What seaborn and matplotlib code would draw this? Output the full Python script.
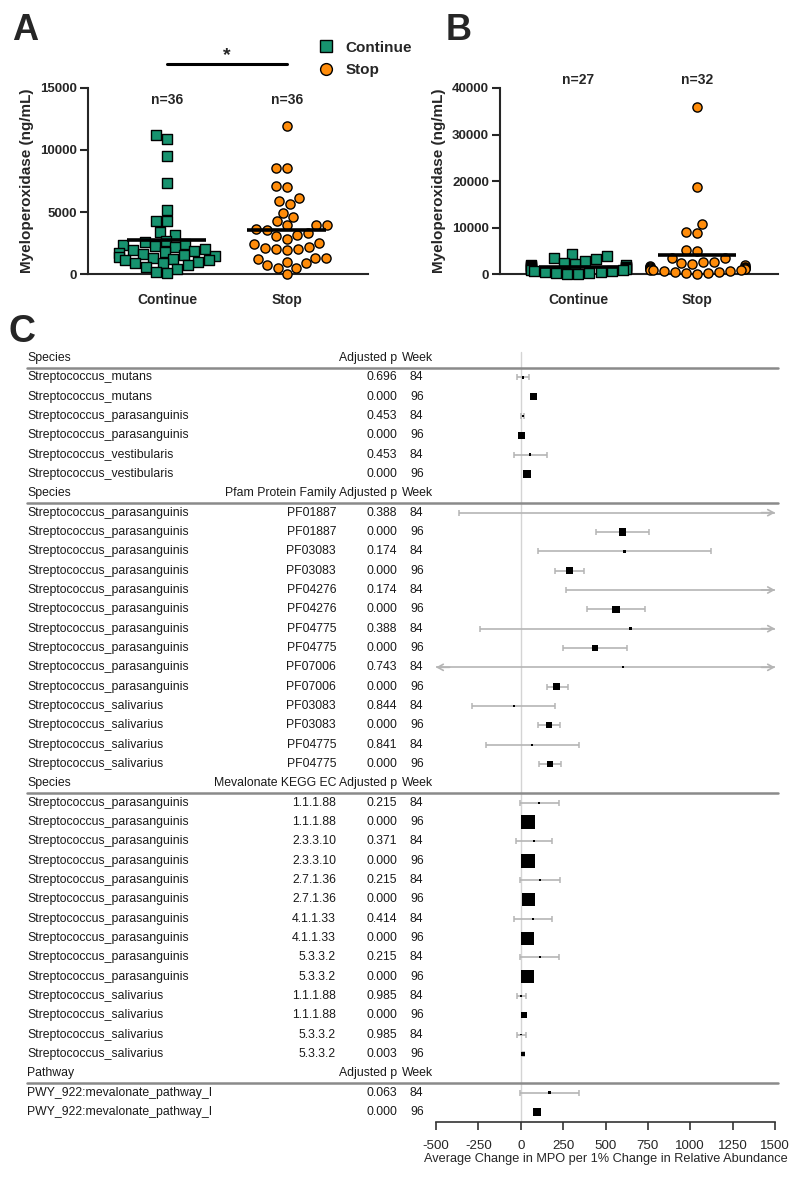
import numpy as np
import pandas as pd
import seaborn as sns
import matplotlib.pyplot as plt
import matplotlib.transforms as mtransforms
from matplotlib.lines import Line2D
from matplotlib import font_manager

# ---- panels A and B : MPO by group ----
groups = ["Continue", "Stop"]
mpo_a_continue = [11190, 10920, 9500, 7350, 5200, 4240, 4240, 3380, 3110, 2650, 2550, 2450,
                  2350, 2250, 2150, 2000, 1950, 1850, 1800, 1700, 1600, 1500, 1450, 1400,
                  1300, 1250, 1150, 1100, 1000, 900, 850, 700, 550, 400, 200, 100]
mpo_a_stop = [11970, 8560, 8560, 7030, 7110, 5880, 6140, 5630, 4940, 4610, 4270, 3920,
              3920, 3920, 3540, 3600, 3330, 3140, 3090, 2790, 2390, 2520, 2170, 2040,
              1930, 1990, 2090, 1310, 1180, 1310, 860, 990, 700, 510, 510, 0]
mpo_b_continue = [4400, 3900, 3400, 3200, 2900, 2300, 2200, 2000, 1900, 1700, 1600, 1500, 1400,
                  1300, 1200, 1100, 1000, 900, 800, 700, 600, 500, 400, 300, 200, 100, 50]
mpo_b_stop = [35850, 18750, 10730, 8730, 8950, 5150, 5010, 3500, 3360, 2650, 2500, 2290, 2100,
              1930, 1800, 1570, 1500, 1360, 1300, 1220, 1100, 1000, 950, 860, 800, 716, 600,
              500, 400, 300, 140, 50]

# ---- panel C : forest plot table ----
section_head = ["Species", "Species", "Species", "Pathway"]
section_col = ["", "Pfam Protein Family", "Mevalonate KEGG EC", ""]
section_n = [6, 14, 14, 2]

names = (["Streptococcus_mutans"] * 2 + ["Streptococcus_parasanguinis"] * 2
         + ["Streptococcus_vestibularis"] * 2
         + ["Streptococcus_parasanguinis"] * 10 + ["Streptococcus_salivarius"] * 4
         + ["Streptococcus_parasanguinis"] * 10 + ["Streptococcus_salivarius"] * 4
         + ["PWY_922:mevalonate_pathway_I"] * 2)
features = ([""] * 6
            + ["PF01887", "PF01887", "PF03083", "PF03083", "PF04276", "PF04276", "PF04775",
               "PF04775", "PF07006", "PF07006", "PF03083", "PF03083", "PF04775", "PF04775"]
            + ["1.1.1.88", "1.1.1.88", "2.3.3.10", "2.3.3.10", "2.7.1.36", "2.7.1.36",
               "4.1.1.33", "4.1.1.33", "5.3.3.2", "5.3.3.2", "1.1.1.88", "1.1.1.88",
               "5.3.3.2", "5.3.3.2"]
            + [""] * 2)
adj_p = [0.696, 0.000, 0.453, 0.000, 0.453, 0.000,
         0.388, 0.000, 0.174, 0.000, 0.174, 0.000, 0.388, 0.000, 0.743, 0.000,
         0.844, 0.000, 0.841, 0.000,
         0.215, 0.000, 0.371, 0.000, 0.215, 0.000, 0.414, 0.000, 0.215, 0.000,
         0.985, 0.000, 0.985, 0.003,
         0.063, 0.000]
weeks = [84, 96] * 18
estimate = [12, 74, 12, 5, 56, 39,
            1700, 601, 613, 287, 1600, 562, 650, 438, 601, 212, -40, 167, 68, 173,
            110, 41, 78, 41, 112, 45, 70, 39, 112, 39, 2, 19, 2, 13,
            171, 96]
ci_low = [-24, 62, 2, -3, -40, 28,
          -362, 444, 104, 200, 265, 393, -240, 251, -600, 153, -286, 102, -205, 109,
          -4, 35, -30, 35, -6, 39, -40, 33, -4, 33, -24, 15, -24, 9,
          -4, 80]
ci_high = [47, 86, 22, 14, 157, 50,
           3700, 758, 1121, 373, 2900, 733, 1540, 625, 1800, 277, 200, 233, 345, 237,
           228, 47, 186, 47, 232, 51, 186, 45, 228, 45, 29, 23, 29, 17,
           345, 112]
box_px = [2.5, 7, 2.5, 6.5, 2.5, 8,
          1.5, 7.5, 3, 7.5, 1.5, 7.5, 3, 6.5, 2, 7.5, 2, 6, 2, 6,
          2, 14, 2, 14, 2, 12.5, 2, 13, 2, 13, 1.5, 6, 1.5, 4,
          3, 8]

GREEN = "#17936f"
ORANGE = "#ff8c0a"
CI_GREY = "#b5b5b5"

sns.set_style("ticks")
plt.rcParams["font.family"] = ["Liberation Sans", "DejaVu Sans"]
plt.rcParams["axes.unicode_minus"] = False

installed = {f.name for f in font_manager.fontManager.ttflist}
if "Liberation Sans Narrow" in installed:
    NARROW, TS = "Liberation Sans Narrow", 10.5
else:
    NARROW, TS = "Liberation Sans", 8.8

W, H = 800, 1182
fig = plt.figure(figsize=(W / 100, H / 100), dpi=100)


def px_axes(left, top, right, bottom):
    return fig.add_axes([left / W, 1 - bottom / H, (right - left) / W, (bottom - top) / H])


def scatter_panel(ax, cont, stop, ymax, step, n_y):
    df = pd.DataFrame({"group": ["Continue"] * len(cont) + ["Stop"] * len(stop),
                       "mpo": cont + stop})
    for g, mk, col in [("Continue", "s", GREEN), ("Stop", "o", ORANGE)]:
        sub = df[df["group"] == g]
        sns.swarmplot(data=sub, x="group", y="mpo", order=groups, marker=mk, color=col,
                      size=6.6, edgecolor="black", linewidth=1, clip_on=False, zorder=3, ax=ax)
        i = groups.index(g)
        ax.hlines(sub["mpo"].mean(), i - 0.33, i + 0.33, color="black", lw=2.6, zorder=5)
        ax.text(i, n_y, f"n={len(sub)}", transform=mtransforms.blended_transform_factory(
            ax.transData, ax.transAxes), ha="center", va="center", fontsize=10,
            fontweight="bold")
    ax.set_xlim(-0.66, 1.68)
    ax.set_ylim(0, ymax)
    ax.set_yticks(np.arange(0, ymax + 1, step))
    ax.set_xlabel("")
    ax.set_ylabel("Myeloperoxidase (ng/mL)", fontsize=11, fontweight="bold", labelpad=4)
    ax.tick_params(axis="y", length=6, width=1.5, labelsize=9.5, pad=2)
    ax.tick_params(axis="x", length=0, labelsize=10, pad=14)
    for lab in ax.get_xticklabels() + ax.get_yticklabels():
        lab.set_fontweight("bold")
    sns.despine(ax=ax)
    for s in ["left", "bottom"]:
        ax.spines[s].set_linewidth(1.5)


ax_a = px_axes(88, 88, 368, 274)
scatter_panel(ax_a, mpo_a_continue, mpo_a_stop, 15000, 5000, 0.935)
ax_a.plot([0, 1], [1.129, 1.129], color="black", lw=2.2, clip_on=False,
          transform=mtransforms.blended_transform_factory(ax_a.transData, ax_a.transAxes))
ax_a.text(0.5, 1.15, "*", ha="center", va="baseline", fontsize=14, fontweight="bold",
          transform=mtransforms.blended_transform_factory(ax_a.transData, ax_a.transAxes))

ax_b = px_axes(500, 88, 778, 274)
scatter_panel(ax_b, mpo_b_continue, mpo_b_stop, 40000, 10000, 1.043)

handles = [Line2D([], [], ls="none", marker="s", markersize=8, markerfacecolor=GREEN,
                  markeredgecolor="black", markeredgewidth=1),
           Line2D([], [], ls="none", marker="o", markersize=8.5, markerfacecolor=ORANGE,
                  markeredgecolor="black", markeredgewidth=1)]
fig.legend(handles, groups, loc="upper left", bbox_to_anchor=(311 / W, 1 - 33 / H),
           frameon=False, borderpad=0, handlelength=1.0, handletextpad=0.75,
           labelspacing=0.55, prop={"size": 11, "weight": "bold"})

fig.text(12 / W, 1 - 40 / H, "A", fontsize=26, fontweight="bold", va="baseline")
fig.text(446 / W, 1 - 40 / H, "B", fontsize=26, fontweight="bold", va="baseline")
fig.text(9 / W, 1 - 342 / H, "C", fontsize=27, fontweight="bold", va="baseline",
         family=NARROW)

# ---- forest plot ----
ax_c = px_axes(436, 348.3, 775, 1121.7)
blend = mtransforms.blended_transform_factory(fig.transFigure, ax_c.transData)

slots, head_slots = [], []
k = 0
for n in section_n:
    head_slots.append(k)
    slots.extend(range(k + 1, k + 1 + n))
    k += n + 1

forest = pd.DataFrame({"slot": slots, "est": estimate, "lo": ci_low, "hi": ci_high,
                       "box": box_px})

ax_c.plot([0, 0], [-0.3, 39.5], color="#d4d4d4", lw=1, zorder=0)

lo_c = forest["lo"].clip(-500, 1500)
hi_c = forest["hi"].clip(-500, 1500)
ax_c.hlines(forest["slot"], lo_c, hi_c, color=CI_GREY, lw=1.2, zorder=1)
arrow = dict(arrowstyle="->,head_length=0.4,head_width=0.22", color=CI_GREY, lw=1.2,
             shrinkA=0, shrinkB=0)
for y, lo, hi in zip(forest["slot"], forest["lo"], forest["hi"]):
    if lo >= -500:
        ax_c.plot([lo], [y], marker="|", ms=5, mew=1.1, color=CI_GREY, zorder=1)
    else:
        ax_c.annotate("", xy=(-500, y), xytext=(-420, y), arrowprops=arrow,
                      annotation_clip=False)
    if hi <= 1500:
        ax_c.plot([hi], [y], marker="|", ms=5, mew=1.1, color=CI_GREY, zorder=1)
    else:
        ax_c.annotate("", xy=(1500, y), xytext=(1420, y), arrowprops=arrow,
                      annotation_clip=False)

sns.scatterplot(data=forest, x="est", y="slot", size="box",
                sizes={b: (b / 1.389) ** 2 for b in set(box_px)}, marker="s",
                color="black", edgecolor="none", legend=False, zorder=3, ax=ax_c)

ax_c.set_xlim(-500, 1500)
ax_c.set_ylim(39.5, -0.5)
ax_c.set_yticks([])
ax_c.set_ylabel("")
ax_c.set_xticks(np.arange(-500, 1501, 250))
ax_c.tick_params(axis="x", length=6, width=1.2, color="#333333", labelsize=9.6, pad=7)
ax_c.set_xlabel("Average Change in MPO per 1% Change in Relative Abundance",
                fontsize=9.2, labelpad=1)
for s in ["left", "top", "right"]:
    ax_c.spines[s].set_visible(False)
ax_c.spines["bottom"].set_linewidth(1.2)
ax_c.spines["bottom"].set_color("#333333")

txt = dict(transform=blend, va="center", fontsize=TS, family=NARROW, color="#1a1a1a")
for h, head, col in zip(head_slots, section_head, section_col):
    ax_c.text(27 / W, h, head, ha="left", **txt)
    if col:
        ax_c.text(336 / W, h, col, ha="right", **txt)
    ax_c.text(397 / W, h, "Adjusted p", ha="right", **txt)
    ax_c.text(402 / W, h, "Week", ha="left", **txt)
    ax_c.plot([27 / W, 778 / W], [h + 0.5, h + 0.5], transform=blend, color="#8a8a8a",
              lw=1.8, clip_on=False)

for y, nm, ft, p, wk in zip(slots, names, features, adj_p, weeks):
    ax_c.text(27 / W, y, nm, ha="left", **txt)
    if ft:
        ax_c.text(336 / W, y, ft, ha="right", **txt)
    ax_c.text(397 / W, y, f"{p:.3f}", ha="right", **txt)
    ax_c.text(410 / W, y, str(wk), ha="left", **txt)

fig.savefig("out.png", dpi=100)
